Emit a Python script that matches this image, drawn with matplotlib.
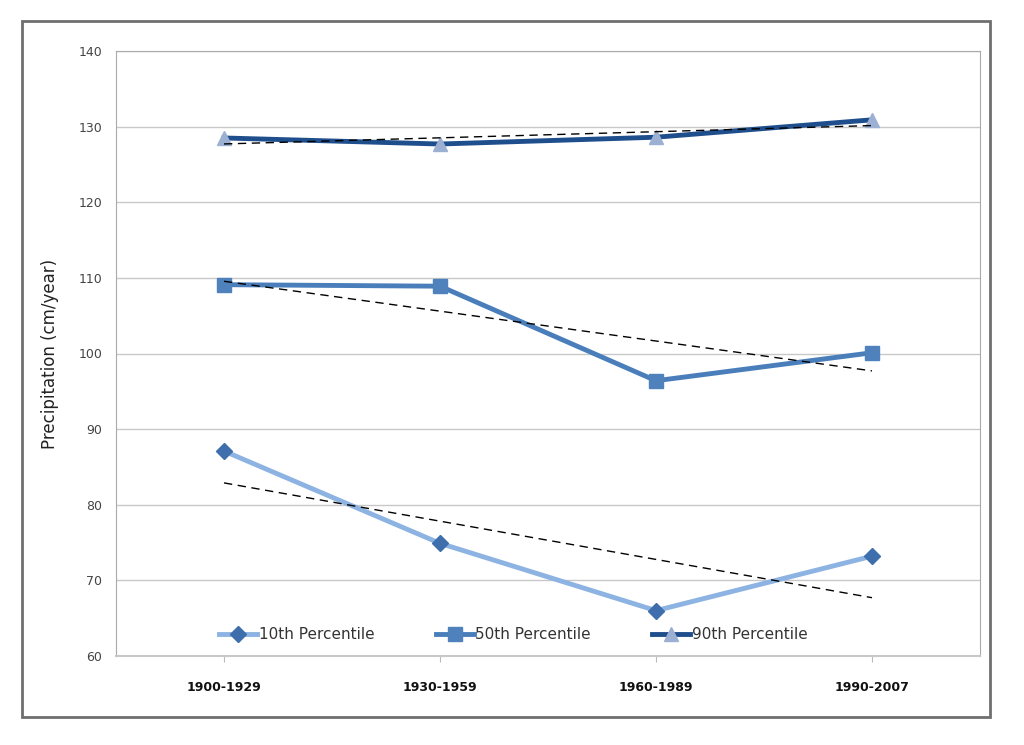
import numpy as np
import matplotlib.pyplot as plt
from matplotlib.patches import Rectangle

# data
periods = ['1900-1929', '1930-1959', '1960-1989', '1990-2007']
p10 = [87.1, 74.9, 66.0, 73.2]
p50 = [109.1, 108.9, 96.4, 100.1]
p90 = [128.5, 127.7, 128.6, 130.9]

series = [
    ('10th Percentile', p10, '#8db3e2', '#3e6eab', 'D', 8),
    ('50th Percentile', p50, '#4a7ebb', '#4f81bd', 's', 10),
    ('90th Percentile', p90, '#1f4e8c', '#9bb0d2', '^', 10),
]

fig = plt.figure(figsize=(10.24, 7.45), dpi=100)
# outer frame
fig.patches.append(Rectangle((22 / 1024, 1 - 717 / 745), 968 / 1024, 696 / 745,
                             transform=fig.transFigure, fill=False,
                             edgecolor='#6f6f6f', linewidth=2))
ax = fig.add_axes([116 / 1024, 1 - 656 / 745, 864 / 1024, 605 / 745])

x = np.arange(len(periods))
for label, vals, lc, mc, mk, ms in series:
    ax.plot(x, vals, color=lc, linewidth=3.5, marker=mk, markersize=ms,
            markerfacecolor=mc, markeredgecolor=mc, label=label, zorder=3)
    # linear trend line
    k, b = np.polyfit(x, vals, 1)
    ax.plot(x, k * x + b, color='black', linestyle=(0, (6, 4)), linewidth=1,
            zorder=4)

ax.set_xlim(-0.5, 3.5)
ax.set_ylim(60, 140)
ax.set_yticks(np.arange(60, 141, 10))
ax.set_xticks(x)
ax.set_xticklabels(periods, fontsize=9, fontweight='bold', color='#111111')
ax.tick_params(axis='y', labelsize=9, colors='#444444', length=0, pad=10)
ax.tick_params(axis='x', length=4, color='#bbbbbb', pad=14)
ax.grid(axis='y', color='#c8c8c8', linewidth=1)
ax.set_axisbelow(True)
for s in ax.spines.values():
    s.set_color('#aaaaaa')
ax.spines['bottom'].set_color('#c8c8c8')
ax.spines['bottom'].set_linewidth(1.5)

ax.set_ylabel('Precipitation (cm/year)', fontsize=12, color='#222222', labelpad=14)

ax.legend(loc='lower center', ncol=3, frameon=False, fontsize=11,
          bbox_to_anchor=(0.46, 0.0), handlelength=2.5, columnspacing=4,
          labelcolor='#333333', handletextpad=0.1)

plt.savefig('out.png', dpi=100)
